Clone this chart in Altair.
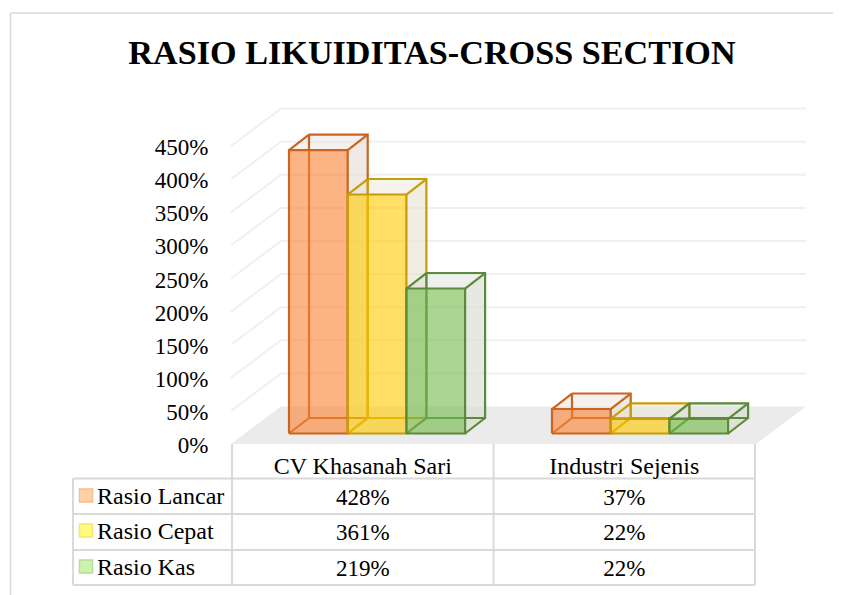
import altair as alt
import pandas as pd

# ---- data ----
categories = ["CV Khasanah Sari", "Industri Sejenis"]
series = ["Rasio Lancar", "Rasio Cepat", "Rasio Kas"]
lancar = [428, 37]
cepat = [361, 22]
kas = [219, 22]
ticks = [0, 50, 100, 150, 200, 250, 300, 350, 400, 450]
title_text = "RASIO LIKUIDITAS-CROSS SECTION"
values = [lancar, cepat, kas]

# ---- styles ----
front_fill = ["#fc8232", "#ffca00", "#71bb48"]
edge = ["#c9651f", "#c79c06", "#5a8a3a"]
side_fill = ["#e6dfd9", "#e8e4d4", "#d9ddd2"]
key_fill = ["#fdd2a6", "#fffb7e", "#cdf3ab"]
key_edge = ["#f9bd8e", "#fde468", "#b9dd9e"]
FONT = "Liberation Serif"
LINE = "#d9d9d9"

# ---- scale: one group = 261.5 px, 1 % = 0.662 px ----
W, H = 825, 587
PX_G, PX_P = 261.5, 0.662
def ux(px): return (px - 232) / PX_G          # page px -> category units
def uy(py): return (433.5 - py) / PX_P        # page px -> percent units
xs = alt.Scale(domain=[ux(8), ux(8 + W)], range=[0, W], nice=False, zero=False)
ys = alt.Scale(domain=[uy(8 + H), uy(8)], range=[H, 0], nice=False, zero=False)
X = lambda f="x": alt.X(f"{f}:Q", scale=xs, axis=None)
Y = lambda f="y": alt.Y(f"{f}:Q", scale=ys, axis=None, stack=None)
X2 = alt.X2("x2:Q")
Y2 = alt.Y2("y2:Q")

def polygon(pts):
    """rows of x, y, y2 for an area polygon"""
    return pd.DataFrame(pts, columns=["x", "y", "y2"])

def area(df, color, op=1.0):
    return alt.Chart(df).mark_area(orient="vertical", color=color, opacity=op, strokeWidth=0, interpolate="linear").encode(
        x=X(), y=Y(), y2=Y2)

def lines(rows, color, width, op=1.0):
    df = pd.DataFrame(rows, columns=["id", "i", "x", "y"])
    return alt.Chart(df).mark_line(color=color, strokeWidth=width, opacity=op, interpolate="linear").encode(
        x=X(), y=Y(), detail="id:N", order="i:Q")

def rules(rows, color=LINE, width=1.8):
    return lines(rows, color, width)

layers = []

# frame
layers.append(rules([(0, 0, ux(10.5), uy(13)), (0, 1, ux(8 + W), uy(13)),
                     (1, 0, ux(10.5), uy(13)), (1, 1, ux(10.5), uy(595))], width=1.6))

# back wall gridlines
FRONT0, BACK0 = 444.0, 406.5
WL, WB, WR = 231, 281, 806
grid = []
for t in ticks[1:]:
    grid += [(t, 0, ux(WL), uy(FRONT0) + t), (t, 1, ux(WB), uy(BACK0) + t), (t, 2, ux(WR), uy(BACK0) + t)]
layers.append(lines(grid, "#f0f0f0", 2.0))

# floor
f, b = uy(FRONT0), uy(BACK0)
layers.append(area(polygon([(ux(231), f, f), (ux(281), b, f), (ux(756), b, f), (ux(806), b, b)]), "#ebebeb"))

# 3-D bars
BAR0, BW, GROUP = ux(289), 58.7 / PX_G, 263 / PX_G
DX, DY = 20 / PX_G, 15.5 / PX_P
for j, s in enumerate(series):
    for i, c in enumerate(categories):
        v = values[j][i]
        l = BAR0 + i * GROUP + j * BW
        r = l + BW
        # bottom face
        layers.append(area(polygon([(l, 0, 0), (l + DX, DY, 0), (r, DY, 0), (r + DX, DY, DY)]), side_fill[j], 0.25))
        # top face
        layers.append(area(polygon([(l, v, v), (l + DX, v + DY, v), (r, v + DY, v), (r + DX, v + DY, v + DY)]), side_fill[j], 0.45))
        # right face
        layers.append(area(polygon([(r, v, 0), (r + DX, v + DY, DY)]), side_fill[j], 0.65))
        # back and depth edges
        e = [
            (0, 0, l + DX, v + DY), (0, 1, r + DX, v + DY), (0, 2, r + DX, DY), (0, 3, l + DX, DY), (0, 4, l + DX, v + DY),
            (1, 0, l, v), (1, 1, l + DX, v + DY),
            (2, 0, r, v), (2, 1, r + DX, v + DY),
            (3, 0, l, 0), (3, 1, l + DX, DY),
            (4, 0, r, 0), (4, 1, r + DX, DY),
        ]
        layers.append(lines(e, edge[j], 2.2))
        # front face
        front = pd.DataFrame([{"x": l, "x2": r, "y": 0, "y2": v}])
        layers.append(alt.Chart(front).mark_rect(color=front_fill[j], opacity=0.6).encode(x=X(), x2=X2, y=Y(), y2=Y2))
        fe = [(0, 0, l, 0), (0, 1, l, v), (0, 2, r, v), (0, 3, r, 0), (0, 4, l, 0)]
        layers.append(lines(fe, edge[j], 2.2))

# data table grid
COLS = [232, 493.5, 755]
ROWS = [478.5, 514, 550, 585]
tbl = []
n = 0
for cx in COLS:
    tbl += [(n, 0, ux(cx), uy(444)), (n, 1, ux(cx), uy(ROWS[-1]))]; n += 1
tbl += [(n, 0, ux(73), uy(ROWS[0])), (n, 1, ux(73), uy(ROWS[-1]))]; n += 1
for ry in ROWS:
    tbl += [(n, 0, ux(73), uy(ry)), (n, 1, ux(755), uy(ry))]; n += 1
layers.append(rules(tbl, width=1.9))

def text(df, size=23, align="center", weight="normal"):
    return alt.Chart(df).mark_text(font=FONT, fontSize=size, align=align, baseline="middle",
                                   color="#000000", fontWeight=weight).encode(x=X(), y=Y(), text="t:N")

# tick labels
layers.append(text(pd.DataFrame([{"x": ux(208.5), "y": uy(FRONT0 + 2) + t, "t": f"{t}%"} for t in ticks]), align="right"))

# header and cells
TEXT_Y = [467, 498, 533, 569]
centers = [(COLS[0] + COLS[1]) / 2, (COLS[1] + COLS[2]) / 2]
layers.append(text(pd.DataFrame([{"x": ux(cx), "y": uy(TEXT_Y[0]), "t": c} for cx, c in zip(centers, categories)]), size=24))
cells = []
for j in range(3):
    for i in range(2):
        cells.append({"x": ux(centers[i]), "y": uy(TEXT_Y[j + 1]), "t": f"{values[j][i]}%"})
layers.append(text(pd.DataFrame(cells)))

# row labels with legend keys
layers.append(text(pd.DataFrame([{"x": ux(97), "y": uy(TEXT_Y[j + 1] - 1), "t": s} for j, s in enumerate(series)]), size=24, align="left"))
for j in range(3):
    key = pd.DataFrame([{"x": ux(86), "y": uy(TEXT_Y[j + 1] - 2.5)}])
    layers.append(alt.Chart(key).mark_square(size=170, fill=key_fill[j], stroke=key_edge[j], strokeWidth=1.5, opacity=1).encode(x=X(), y=Y()))

# title
layers.append(text(pd.DataFrame([{"x": ux(432), "y": uy(53.5), "t": title_text}]), size=34.2, weight="bold"))

chart = alt.layer(*layers).properties(width=W, height=H, padding=0, autosize=alt.AutoSizeParams(type="none")).configure_view(strokeWidth=0)
chart.save("out.html", embed_options={"renderer": "svg", "actions": False})
